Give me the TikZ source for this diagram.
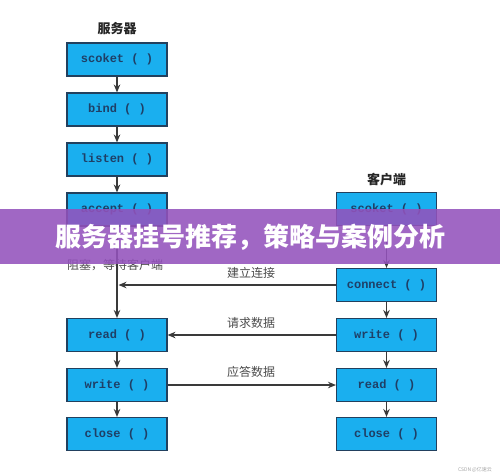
\documentclass[tikz,border=0pt]{standalone}
\usepackage{fontspec}
\newfontfamily\cjk{Noto Sans CJK SC}
\newfontfamily\mono{Liberation Mono}
\usetikzlibrary{arrows.meta}
\definecolor{boxfill}{HTML}{1AAFEF}
\definecolor{boxline}{HTML}{22405E}
\definecolor{boxtext}{HTML}{1F3F66}
\definecolor{arrowc}{HTML}{3A3A3A}
\definecolor{band}{HTML}{9352BC}
\begin{document}
\begin{tikzpicture}[x=1pt,y=-1pt,
  fn/.style={draw=boxline, line width=1.1pt, fill=boxfill, minimum width=100pt, minimum height=33pt, inner sep=0pt, font=\mono\bfseries\fontsize{12}{12}\selectfont, text=boxtext},
  arr/.style={draw=arrowc, line width=1.2pt, -{Stealth[length=8pt,width=6.5pt]}},
  lbl/.style={font=\cjk\fontsize{12}{12}\selectfont, text=black!70, inner sep=0pt},
  ttl/.style={font=\cjk\bfseries\fontsize{13}{13}\selectfont, text=black!85, inner sep=0pt}]
\useasboundingbox[fill=white] (0,0) rectangle (500,475);
% server column
\node[ttl] (st) at (117,29) {服务器};
\node[fn] (s1) at (117,59.5) {scoket ( )};
\node[fn] (s2) at (117,109.5) {bind ( )};
\node[fn] (s3) at (117,159.5) {listen ( )};
\node[fn] (s4) at (117,209.5) {accept ( )};
\node[fn] (s5) at (117,335) {read ( )};
\node[fn] (s6) at (117,385) {write ( )};
\node[fn] (s7) at (117,434) {close ( )};
% client column
\node[ttl] (ct) at (386.5,180) {客户端};
\node[fn] (c1) at (386.5,209) {scoket ( )};
\node[fn] (c2) at (386.5,285) {connect ( )};
\node[fn] (c3) at (386.5,335) {write ( )};
\node[fn] (c4) at (386.5,385) {read ( )};
\node[fn] (c5) at (386.5,434) {close ( )};
% labels
\node[lbl, anchor=west] (blk) at (67,265) {阻塞，等待客户端};
\node[lbl] (l1) at (251,273) {建立连接};
\node[lbl] (l2) at (251,323) {请求数据};
\node[lbl] (l3) at (251,372) {应答数据};
% arrows
\draw[arr] (s1) -- (s2);
\draw[arr] (s2) -- (s3);
\draw[arr] (s3) -- (s4);
\draw[arr] (s4) -- (s5);
\draw[arr] (s5) -- (s6);
\draw[arr] (s6) -- (s7);
\draw[arr] (c1) -- (c2);
\draw[arr] (c2) -- (c3);
\draw[arr] (c3) -- (c4);
\draw[arr] (c4) -- (c5);
\coordinate (j) at (s4 |- c2);
\draw[arr, shorten >=1.5pt] (c2.west) -- (j);
\draw[arr] (c3.west) -- (s5.east);
\draw[arr] (s6.east) -- (c4.west);
% banner
\fill[band, opacity=0.88] (0,209) rectangle (500,264);
\node[font=\cjk\bfseries\fontsize{26}{26}\selectfont, text=white, inner sep=0pt] (bn) at (250,237.5) {服务器挂号推荐，策略与案例分析};
% watermark
\node[font=\cjk\fontsize{5}{5}\selectfont, text=black!35, inner sep=0pt] (wm) at (475,470) {CSDN @亿速云};
\end{tikzpicture}
\end{document}
